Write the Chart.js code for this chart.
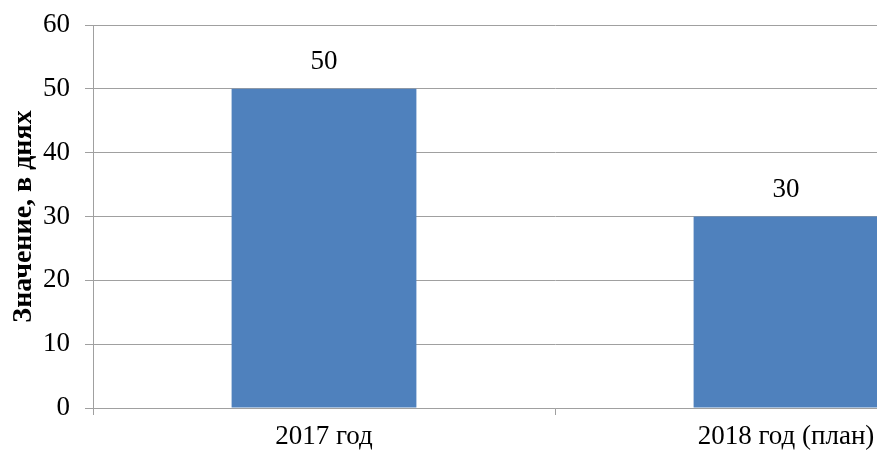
<!DOCTYPE html>
<html>
<head>
<meta charset="utf-8">
<script src="https://cdn.jsdelivr.net/npm/chart.js@4/dist/chart.umd.min.js"></script>
<style>
  html, body { margin: 0; padding: 0; background: #fff; overflow: hidden; }
  #wrap { width: 877px; height: 451px; overflow: hidden; position: relative; }
  canvas { display: block; }
</style>
</head>
<body>
<div id="wrap"><canvas id="c" width="1040" height="451"></canvas></div>
<script>
const categories = ['2017 год', '2018 год (план)'];
const values = [50, 30];
const yTitle = 'Значение, в днях';

const FONT = "'Liberation Serif', 'Times New Roman', serif";
const GRID = '#a0a0a0';

// Draws the value above each bar
const valueLabels = {
  id: 'valueLabels',
  afterDatasetsDraw(chart) {
    const ctx = chart.ctx;
    const meta = chart.getDatasetMeta(0);
    ctx.save();
    ctx.font = '27px ' + FONT;
    ctx.fillStyle = '#000';
    ctx.textAlign = 'center';
    ctx.textBaseline = 'middle';
    meta.data.forEach((bar, i) => {
      ctx.fillText(String(chart.data.datasets[0].data[i]), bar.x, bar.y - 27);
    });
    ctx.restore();
  }
};

new Chart(document.getElementById('c'), {
  type: 'bar',
  data: {
    labels: categories,
    datasets: [{
      data: values,
      backgroundColor: '#4f81bd',
      borderWidth: 0,
      categoryPercentage: 1,
      barPercentage: 0.4
    }]
  },
  options: {
    responsive: false,
    animation: false,
    layout: { padding: { top: 25, right: 23, left: 0, bottom: 0 } },
    plugins: { legend: { display: false }, tooltip: { enabled: false } },
    scales: {
      x: {
        grid: {
          drawOnChartArea: false,
          color: GRID,
          tickLength: 7,
          offset: true
        },
        border: { color: GRID, width: 1 },
        ticks: { color: '#000', font: { family: FONT, size: 27 }, padding: 6, maxRotation: 0 },
        afterFit(scale) { scale.height = 43; }
      },
      y: {
        min: 0,
        max: 60,
        ticks: { stepSize: 10, color: '#000', font: { family: FONT, size: 27 }, padding: 15 },
        grid: { color: GRID, tickLength: 8 },
        border: { color: GRID, width: 1 },
        title: {
          display: true,
          text: yTitle,
          color: '#000',
          font: { family: FONT, size: 28, weight: 'bold' },
          padding: { top: 7, bottom: 0 }
        },
        afterFit(scale) {
          scale.width = 93;
          scale.paddingTop = 0;
          scale.paddingBottom = 0;
        }
      }
    }
  },
  plugins: [valueLabels]
});
</script>
</body>
</html>
